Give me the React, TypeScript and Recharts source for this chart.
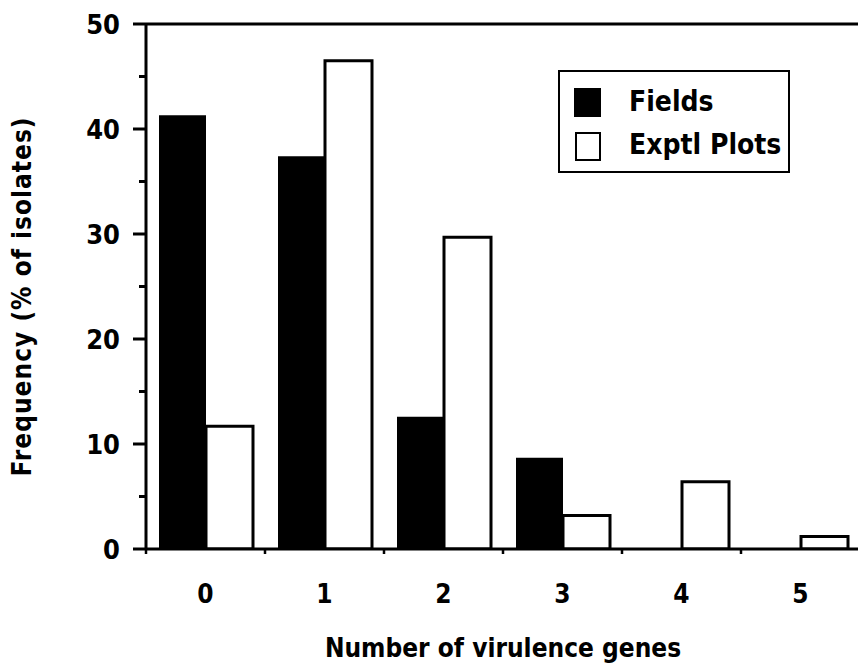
import React from 'react';
import { BarChart, Bar, XAxis, YAxis, ReferenceLine, Legend, Label } from 'recharts';

const categories = ['0', '1', '2', '3', '4', '5'];
const fieldsValues = [41.3, 37.4, 12.6, 8.7, 0, 0];
const exptlValues = [11.7, 46.5, 29.7, 3.2, 6.4, 1.2];
const yTicks = [0, 5, 10, 15, 20, 25, 30, 35, 40, 45, 50];
const yLabelTicks = [0, 10, 20, 30, 40, 50];
const edgeTicks = [0, 1, 2, 3, 4, 5, 6];
const seriesNames = { fields: 'Fields', exptl: 'Exptl Plots' };
const xTitle = 'Number of virulence genes';
const yTitle = 'Frequency (% of isolates)';

const data = categories.map((c, i) => ({
  name: c,
  idx: i,
  fields: fieldsValues[i],
  exptl: exptlValues[i],
}));

const FONT = "'DejaVu Sans Condensed', 'DejaVu Sans', sans-serif";

const YTick = (props: any) => {
  const { x, y, payload } = props;
  const major = yLabelTicks.includes(payload.value);
  return (
    <g>
      <line x1={x - (major ? 13 : 7)} x2={x} y1={y} y2={y} stroke="#000" strokeWidth={3} />
      {major && (
        <text x={x - 26} y={y} textAnchor="end" dominantBaseline="central" fontFamily={FONT} fontWeight="bold" fontSize={27} fill="#000">
          {payload.value}
        </text>
      )}
    </g>
  );
};

const XTick = (props: any) => {
  const { x, y, payload } = props;
  return (
    <text x={x} y={y + 44} textAnchor="middle" dominantBaseline="central" fontFamily={FONT} fontWeight="bold" fontSize={26} fill="#000">
      {payload.value}
    </text>
  );
};

const EmptyTick = () => <g />;

const LegendBox = () => (
  <div
    style={{
      width: 228,
      height: 99,
      border: '2.5px solid #000',
      background: '#fff',
      position: 'relative',
      fontFamily: FONT,
      fontWeight: 'bold',
      fontSize: 28,
      color: '#000',
    }}
  >
    <div style={{ position: 'absolute', left: 14, top: 16, width: 27, height: 29, background: '#000' }} />
    <div style={{ position: 'absolute', left: 69, top: 14, lineHeight: '32px' }}>{seriesNames.fields}</div>
    <div style={{ position: 'absolute', left: 15, top: 60, width: 22, height: 25, border: '2.5px solid #000', background: '#fff' }} />
    <div style={{ position: 'absolute', left: 69, top: 57, lineHeight: '32px' }}>{seriesNames.exptl}</div>
  </div>
);

export default function App() {
  return (
    <div style={{ position: 'fixed', left: 0, top: 0, width: 858, height: 666, overflow: 'hidden', background: '#fff' }}>
      <BarChart
        width={870}
        height={666}
        data={data}
        margin={{ top: 24, right: 10, bottom: 0, left: 0 }}
        barCategoryGap={13}
        barGap={0}
      >
        <XAxis
          xAxisId={0}
          type="number"
          dataKey="idx"
          domain={[0, 6]}
          ticks={edgeTicks}
          allowDataOverflow
          height={1}
          tickSize={5}
          tick={<EmptyTick />}
          axisLine={{ stroke: '#000', strokeWidth: 3 }}
          tickLine={{ stroke: '#000', strokeWidth: 2.5 }}
        />
        <XAxis
          xAxisId={1}
          dataKey="name"
          height={116}
          tickSize={0}
          tickMargin={0}
          axisLine={false}
          tickLine={false}
          tick={<XTick />}
          interval={0}
        >
          <Label
            content={(p: any) => {
              const vb = p.viewBox;
              return (
                <text x={vb.x + vb.width / 2} y={vb.y + 98} textAnchor="middle" dominantBaseline="central" fontFamily={FONT} fontWeight="bold" fontSize={26} fill="#000">
                  {xTitle}
                </text>
              );
            }}
          />
        </XAxis>
        <YAxis
          width={146}
          domain={[0, 50]}
          ticks={yTicks}
          interval={0}
          tickSize={0}
          tickMargin={0}
          tickLine={false}
          tick={<YTick />}
          axisLine={{ stroke: '#000', strokeWidth: 3 }}
          allowDataOverflow
        >
          <Label
            content={(p: any) => {
              const vb = p.viewBox;
              const cx = vb.x + 22;
              const cy = vb.y + vb.height / 2 + 10;
              return (
                <text x={cx} y={cy} transform={`rotate(-90 ${cx} ${cy})`} textAnchor="middle" dominantBaseline="central" fontFamily={FONT} fontWeight="bold" fontSize={26} fill="#000" letterSpacing={1}>
                  {yTitle}
                </text>
              );
            }}
          />
        </YAxis>
        <ReferenceLine xAxisId={1} y={50} stroke="#000" strokeWidth={3} />
        <Legend
          layout="vertical"
          align="center"
          verticalAlign="middle"
          content={<LegendBox />}
          wrapperStyle={{ position: 'absolute', left: 558, top: 70, width: 233, height: 104 }}
        />
        <Bar xAxisId={1} dataKey="fields" name={seriesNames.fields} fill="#000" stroke="none" isAnimationActive={false} />
        <Bar xAxisId={1} dataKey="exptl" name={seriesNames.exptl} fill="#fff" stroke="#000" strokeWidth={3} isAnimationActive={false} />
      </BarChart>
    </div>
  );
}
